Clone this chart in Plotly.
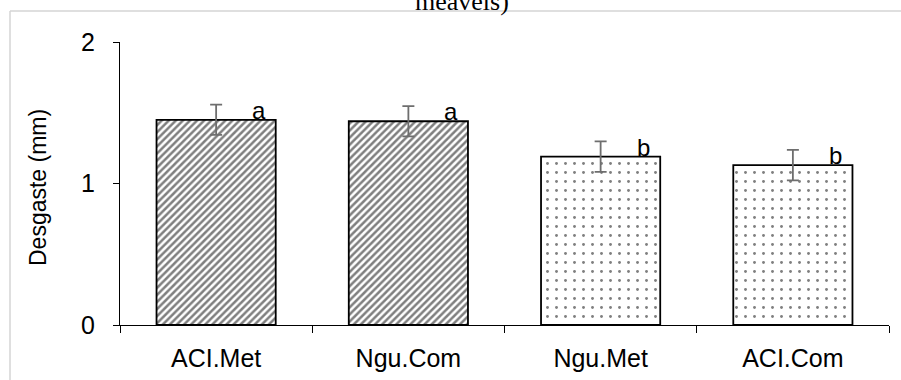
import plotly.graph_objects as go

# Wear (mm) per treatment, with standard-error bars and significance letters
categories = ["ACI.Met", "Ngu.Com", "Ngu.Met", "ACI.Com"]
wear_mm = [1.45, 1.44, 1.19, 1.13]
wear_err = [0.107, 0.107, 0.108, 0.108]
sig_letters = ["a", "a", "b", "b"]
fill_shapes = ["/", "/", ".", "."]
y_ticks = [0, 1, 2]

W, H = 901, 380
L, R, T, B = 120, 12, 42, 55
PW, PH = W - L - R, H - T - B
FONT = "Arial, Liberation Sans, sans-serif"

fig = go.Figure()

fig.add_trace(go.Bar(
    x=categories,
    y=wear_mm,
    width=0.62,
    marker=dict(
        color="white",
        line=dict(color="black", width=1.8),
        pattern=dict(
            shape=fill_shapes,
            fgcolor="black",
            bgcolor="white",
            size=[5, 5, 9, 9],
            solidity=[0.5, 0.5, 0.08, 0.08],
        ),
    ),
    error_y=dict(type="data", array=wear_err, visible=True,
                 color="#6e6e6e", thickness=1.8, width=6),
    showlegend=False,
))

# significance letters sitting on the bar tops, to the right of the error bars
for cat, val, lab in zip(categories, wear_mm, sig_letters):
    fig.add_annotation(
        x=cat, y=val, text=lab, showarrow=False,
        xref="x", yref="y", xanchor="center", yanchor="bottom",
        xshift=43, yshift=-6,
        font=dict(family=FONT, size=24, color="black"),
    )

# y-axis title
fig.add_annotation(
    x=(38 - L) / PW, y=1 - (188 - T) / PH, xref="paper", yref="paper",
    text="Desgaste (mm)", textangle=-90, showarrow=False,
    xanchor="center", yanchor="middle",
    font=dict(family=FONT, size=23, color="black"),
)

# caption line running off the top of the page
fig.add_annotation(
    x=(462 - L) / PW, y=1 + (T - 1) / PH,
    xref="paper", yref="paper", text="meavels)", showarrow=False,
    xanchor="center", yanchor="middle",
    font=dict(family="Liberation Serif, Times New Roman, serif", size=26, color="black"),
)

# light grey page frame
fig.add_shape(type="line", xref="paper", yref="paper",
              x0=(10 - L) / PW, x1=1 + R / PW + 0.01,
              y0=1 + (T - 11) / PH, y1=1 + (T - 11) / PH,
              line=dict(color="#d4d4d4", width=1.5))
fig.add_shape(type="line", xref="paper", yref="paper",
              x0=(10 - L) / PW, x1=(10 - L) / PW,
              y0=1 + (T - 11) / PH, y1=-B / PH - 0.01,
              line=dict(color="#d4d4d4", width=1.5))

fig.update_layout(
    width=W, height=H,
    margin=dict(l=L, r=R, t=T, b=B, autoexpand=False),
    paper_bgcolor="white", plot_bgcolor="white",
    font=dict(family=FONT, size=24, color="black"),
    bargap=0.38,
)

fig.update_xaxes(
    showline=True, linecolor="black", linewidth=1.3,
    ticks="outside", tickson="boundaries", ticklen=7, tickcolor="black", tickwidth=1.3,
    showgrid=False, tickfont=dict(size=25), ticklabelstandoff=11, automargin=False,
)
fig.update_yaxes(
    range=[0, 2], tickvals=y_ticks, ticktext=[str(v) for v in y_ticks],
    showline=True, linecolor="black", linewidth=1.3,
    ticks="outside", ticklen=6, tickcolor="black", tickwidth=1.3,
    showgrid=False, zeroline=False, tickfont=dict(size=25), ticklabelstandoff=13,
    automargin=False,
)

fig.write_html("out.html")
